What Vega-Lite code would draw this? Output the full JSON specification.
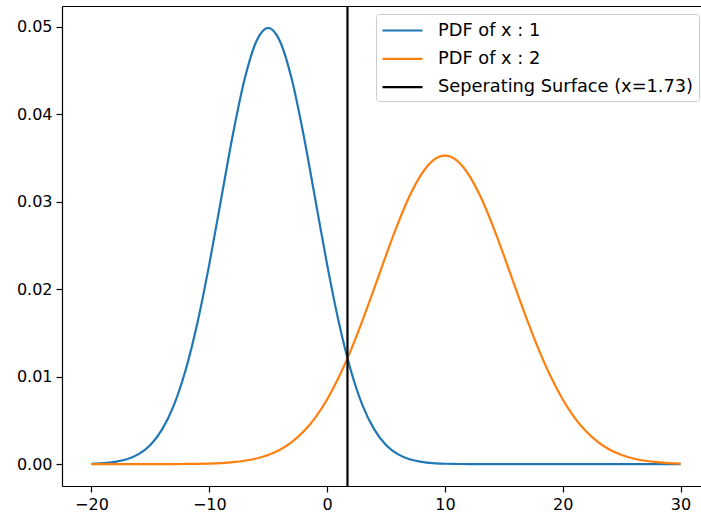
{
  "$schema": "https://vega.github.io/schema/vega-lite/v6.json",
  "width": 648,
  "height": 480,
  "autosize": {"type": "none"},
  "padding": {"left": 62, "top": 6, "right": -9, "bottom": 34},
  "config": {
    "font": "DejaVu Sans",
    "view": {"stroke": null},
    "axis": {"grid": false, "domain": true, "domainColor": "#000000", "domainWidth": 1.2, "tickColor": "#000000", "tickSize": 6, "tickWidth": 1.2, "labelColor": "#000000", "labelFontSize": 16, "labelFont": "DejaVu Sans", "labelPadding": 4, "title": null}
  },
  "resolve": {"axis": {"x": "independent"}},
  "datasets": {
    "pdf1": [
      {"x": -20, "y": 0.000044}, {"x": -19, "y": 0.000109}, {"x": -18, "y": 0.000254}, {"x": -17, "y": 0.000554},
      {"x": -16, "y": 0.001137}, {"x": -15, "y": 0.002191}, {"x": -14, "y": 0.003968}, {"x": -13, "y": 0.00675},
      {"x": -12, "y": 0.01079}, {"x": -11, "y": 0.01619}, {"x": -10, "y": 0.02283}, {"x": -9, "y": 0.03025},
      {"x": -8, "y": 0.03764}, {"x": -7, "y": 0.04401}, {"x": -6, "y": 0.04834}, {"x": -5, "y": 0.04987},
      {"x": -4, "y": 0.04834}, {"x": -3, "y": 0.04401}, {"x": -2, "y": 0.03764}, {"x": -1, "y": 0.03025},
      {"x": 0, "y": 0.02283}, {"x": 1, "y": 0.01619}, {"x": 2, "y": 0.01079}, {"x": 3, "y": 0.00675},
      {"x": 4, "y": 0.003968}, {"x": 5, "y": 0.002191}, {"x": 6, "y": 0.001137}, {"x": 7, "y": 0.000554},
      {"x": 8, "y": 0.000254}, {"x": 9, "y": 0.000109}, {"x": 10, "y": 0.000044}, {"x": 11, "y": 0.000017},
      {"x": 12, "y": 0.000006}, {"x": 13, "y": 0.000002}, {"x": 14, "y": 0}, {"x": 15, "y": 0},
      {"x": 16, "y": 0}, {"x": 17, "y": 0}, {"x": 18, "y": 0}, {"x": 19, "y": 0}, {"x": 20, "y": 0},
      {"x": 21, "y": 0}, {"x": 22, "y": 0}, {"x": 23, "y": 0}, {"x": 24, "y": 0}, {"x": 25, "y": 0},
      {"x": 26, "y": 0}, {"x": 27, "y": 0}, {"x": 28, "y": 0}, {"x": 29, "y": 0}, {"x": 30, "y": 0}
    ],
    "pdf2": [
      {"x": -20, "y": 0}, {"x": -19, "y": 0}, {"x": -18, "y": 0}, {"x": -17, "y": 0.000001},
      {"x": -16, "y": 0.000001}, {"x": -15, "y": 0.000002}, {"x": -14, "y": 0.000004}, {"x": -13, "y": 0.000009},
      {"x": -12, "y": 0.000018}, {"x": -11, "y": 0.000036}, {"x": -10, "y": 0.000068}, {"x": -9, "y": 0.000125},
      {"x": -8, "y": 0.000223}, {"x": -7, "y": 0.000386}, {"x": -6, "y": 0.000646}, {"x": -5, "y": 0.001048},
      {"x": -4, "y": 0.001649}, {"x": -3, "y": 0.002515}, {"x": -2, "y": 0.003717}, {"x": -1, "y": 0.005323},
      {"x": 0, "y": 0.007391}, {"x": 1, "y": 0.009946}, {"x": 2, "y": 0.01297}, {"x": 3, "y": 0.0164},
      {"x": 4, "y": 0.02009}, {"x": 5, "y": 0.02386}, {"x": 6, "y": 0.02746}, {"x": 7, "y": 0.03064},
      {"x": 8, "y": 0.03312}, {"x": 9, "y": 0.03472}, {"x": 10, "y": 0.03526}, {"x": 11, "y": 0.03472},
      {"x": 12, "y": 0.03312}, {"x": 13, "y": 0.03064}, {"x": 14, "y": 0.02746}, {"x": 15, "y": 0.02386},
      {"x": 16, "y": 0.02009}, {"x": 17, "y": 0.0164}, {"x": 18, "y": 0.01297}, {"x": 19, "y": 0.009946},
      {"x": 20, "y": 0.007391}, {"x": 21, "y": 0.005323}, {"x": 22, "y": 0.003717}, {"x": 23, "y": 0.002515},
      {"x": 24, "y": 0.001649}, {"x": 25, "y": 0.001048}, {"x": 26, "y": 0.000646}, {"x": 27, "y": 0.000386},
      {"x": 28, "y": 0.000223}, {"x": 29, "y": 0.000125}, {"x": 30, "y": 0.000068}
    ],
    "sep": [{"x": 1.73}]
  },
  "layer": [
    {
      "data": {"name": "pdf1"},
      "mark": {"type": "line", "strokeWidth": 2.2, "interpolate": "monotone"},
      "encoding": {
        "x": {"field": "x", "type": "quantitative", "scale": {"domain": [-22.5, 32.5], "nice": false, "zero": false}, "axis": {"values": [-20, -10, 0, 10, 20, 30], "format": "d"}},
        "y": {"field": "y", "type": "quantitative", "scale": {"domain": [-0.0025, 0.05236], "nice": false, "zero": false}, "axis": {"values": [0, 0.01, 0.02, 0.03, 0.04, 0.05], "format": ".2f"}},
        "color": {
          "datum": "PDF of x : 1",
          "scale": {"domain": ["PDF of x : 1", "PDF of x : 2", "Seperating Surface (x=1.73)"], "range": ["#1f77b4", "#ff7f0e", "#000000"]},
          "legend": {"title": null, "orient": "none", "legendX": 314, "legendY": 8, "symbolType": "M-1,0H3", "symbolSize": 400, "symbolStrokeWidth": 2.2, "labelFontSize": 17.8, "labelFont": "DejaVu Sans", "labelColor": "#000000", "labelOffset": 34, "labelLimit": 500, "rowPadding": 7.3, "padding": 5, "strokeColor": "#cccccc", "fillColor": "rgba(255,255,255,0.8)", "cornerRadius": 3}
        }
      }
    },
    {
      "data": {"name": "pdf2"},
      "mark": {"type": "line", "strokeWidth": 2.2, "interpolate": "monotone"},
      "encoding": {
        "x": {"field": "x", "type": "quantitative", "axis": null},
        "y": {"field": "y", "type": "quantitative"},
        "color": {"datum": "PDF of x : 2"}
      }
    },
    {
      "data": {"name": "sep"},
      "mark": {"type": "rule", "strokeWidth": 2.2},
      "encoding": {
        "x": {"field": "x", "type": "quantitative", "axis": {"orient": "top", "labels": false, "ticks": false, "domain": true}},
        "color": {"datum": "Seperating Surface (x=1.73)"}
      }
    }
  ]
}
